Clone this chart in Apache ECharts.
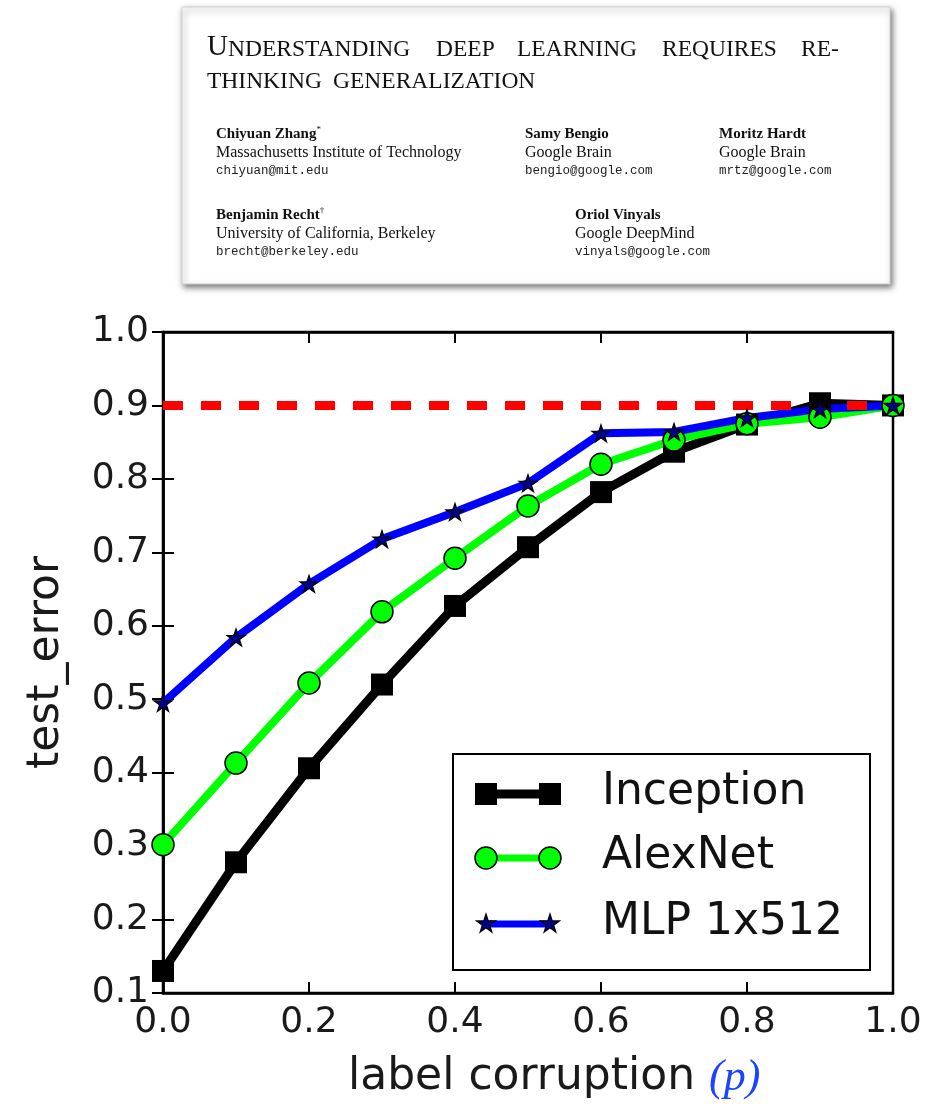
<!DOCTYPE html>
<html>
<head>
<meta charset="utf-8">
<script src="https://cdn.jsdelivr.net/npm/echarts@6/dist/echarts.min.js"></script>
</head>
<body style="margin:0;background:#fff">
<div id="container" style="width:937px;height:1104px"></div>
<script>
// data
var corruption = [0.0, 0.1, 0.2, 0.3, 0.4, 0.5, 0.6, 0.7, 0.8, 0.9, 1.0];
var inception = [0.13, 0.278, 0.406, 0.52, 0.627, 0.707, 0.782, 0.837, 0.874, 0.903, 0.9];
var alexnet = [0.302, 0.413, 0.522, 0.619, 0.692, 0.763, 0.820, 0.853, 0.875, 0.884, 0.9];
var mlp = [0.495, 0.584, 0.657, 0.718, 0.755, 0.794, 0.862, 0.864, 0.883, 0.895, 0.9];
var randomGuess = [0.9, 0.9];
var guessX = [0.0, 1.0];
var seriesNames = ['Inception', 'AlexNet', 'MLP 1x512'];

// paper header text
var titleLine1 = ['Understanding', 'deep', 'learning', 'requires', 're-'];
var titleLine2 = ['thinking', 'generalization'];
var authors = [
    {name: 'Chiyuan Zhang', mark: '*', affil: 'Massachusetts Institute of Technology', email: 'chiyuan@mit.edu'},
    {name: 'Samy Bengio', mark: '', affil: 'Google Brain', email: 'bengio@google.com'},
    {name: 'Moritz Hardt', mark: '', affil: 'Google Brain', email: 'mrtz@google.com'},
    {name: 'Benjamin Recht', mark: '\u2020', affil: 'University of California, Berkeley', email: 'brecht@berkeley.edu'},
    {name: 'Oriol Vinyals', mark: '', affil: 'Google DeepMind', email: 'vinyals@google.com'}
];

function pairs(xs, ys) {
    var out = [];
    for (var i = 0; i < xs.length; i++) out.push([xs[i], ys[i]]);
    return out;
}

var starPath = 'path://M0,-1000 L224,-309 L951,-309 L363,118 L588,809 L0,382 L-588,809 L-363,118 L-951,-309 L-224,-309 Z';

function starPoints(cx, cy, r) {
    var pts = [];
    for (var k = 0; k < 10; k++) {
        var a = -Math.PI / 2 + k * Math.PI / 5;
        var rr = k % 2 === 0 ? r : r * 0.382;
        pts.push([cx + rr * Math.cos(a), cy + rr * Math.sin(a)]);
    }
    return pts;
}

function smallCaps(word) {
    var first = word.charAt(0);
    if (first === first.toUpperCase() && first !== first.toLowerCase()) {
        return '{b|' + first + '}{s|' + word.slice(1).toUpperCase() + '}';
    }
    return '{s|' + word.toUpperCase() + '}';
}

var serif = '"Liberation Serif", "Times New Roman", serif';
var sans = '"DejaVu Sans", sans-serif';
var capsRich = {
    b: {fontSize: 29, fontFamily: serif, fill: '#111', verticalAlign: 'bottom'},
    s: {fontSize: 23.5, fontFamily: serif, fill: '#111', verticalAlign: 'bottom'}
};

var graphics = [];

// header card
graphics.push({
    type: 'rect', z: 0,
    shape: {x: 182, y: 7, width: 708, height: 277},
    style: {fill: '#fff', stroke: '#d0d0d0', lineWidth: 1,
        shadowBlur: 6, shadowOffsetX: 2, shadowOffsetY: 3, shadowColor: 'rgba(0,0,0,0.55)'}
});
var line1X = [207, 436, 517, 662, 801];
titleLine1.forEach(function (w, i) {
    graphics.push({type: 'text', z: 1, x: line1X[i], y: 62,
        style: {text: smallCaps(w), rich: capsRich, textVerticalAlign: 'bottom'}});
});
var line2X = [207, 333];
titleLine2.forEach(function (w, i) {
    graphics.push({type: 'text', z: 1, x: line2X[i], y: 94,
        style: {text: smallCaps(w), rich: capsRich, textVerticalAlign: 'bottom'}});
});
var authorPos = [[216, 134], [525, 134], [719, 134], [216, 215], [575, 215]];
authors.forEach(function (a, i) {
    var px = authorPos[i][0], py = authorPos[i][1];
    graphics.push({type: 'text', z: 1, x: px, y: py,
        style: {text: '{n|' + a.name + '}' + (a.mark ? '{m|' + a.mark + '}' : ''),
            rich: {n: {fontSize: 15, fontWeight: 'bold', fontFamily: serif, fill: '#111'},
                   m: {fontSize: 9, fontFamily: serif, fill: '#111', verticalAlign: 'top', padding: [0, 0, 8, 0]}},
            textVerticalAlign: 'middle'}});
    graphics.push({type: 'text', z: 1, x: px, y: py + 19,
        style: {text: a.affil, font: '16px ' + serif, fill: '#111', textVerticalAlign: 'middle'}});
    graphics.push({type: 'text', z: 1, x: px, y: py + 37,
        style: {text: a.email, font: '12.5px "Liberation Mono", "DejaVu Sans Mono", monospace', fill: '#222', textVerticalAlign: 'middle'}});
});

// x axis title
graphics.push({
    type: 'text', z: 1, x: 348, y: 1078,
    style: {text: '{a|label corruption }{p|(p)}',
        rich: {a: {fontSize: 44, fontFamily: sans, fill: '#1a1a1a'},
               p: {fontSize: 44, fontFamily: serif, fontStyle: 'italic', fill: '#1a44ff'}},
        textVerticalAlign: 'middle'}
});

// legend, matplotlib style with two markers per sample
var legX = 453, legY = 754, legW = 417, legH = 216;
graphics.push({type: 'rect', z: 20, shape: {x: legX, y: legY, width: legW, height: legH},
    style: {fill: '#fff', stroke: '#000', lineWidth: 2}});
var legRows = [794, 858, 924];
var legLineStyle = [
    {stroke: '#000', lineWidth: 9},
    {stroke: '#00ff00', lineWidth: 7},
    {stroke: '#0000ff', lineWidth: 7}
];
seriesNames.forEach(function (nm, i) {
    var y = legRows[i];
    graphics.push({type: 'line', z: 21, shape: {x1: 486, y1: y, x2: 550, y2: y}, style: legLineStyle[i]});
    [486, 550].forEach(function (mx) {
        if (i === 0) {
            graphics.push({type: 'rect', z: 22, shape: {x: mx - 11, y: y - 11, width: 22, height: 22},
                style: {fill: '#000'}});
        } else if (i === 1) {
            graphics.push({type: 'circle', z: 22, shape: {cx: mx, cy: y, r: 11},
                style: {fill: '#00ff00', stroke: '#000', lineWidth: 1.5}});
        } else {
            graphics.push({type: 'polygon', z: 22, shape: {points: starPoints(mx, y, 10)},
                style: {fill: '#00008b', stroke: '#000', lineWidth: 1.2}});
        }
    });
    graphics.push({type: 'text', z: 22, x: 602, y: y - 1,
        style: {text: nm, font: '44px ' + sans, fill: '#111', textVerticalAlign: 'middle'}});
});

var tickStyle = {show: true, inside: true, length: 11, lineStyle: {color: '#000', width: 2}};
var labelStyle = {fontSize: 36, fontFamily: sans, color: '#1a1a1a'};

var dom = document.getElementById('container');
var myChart = echarts.init(dom, null, {renderer: 'canvas'});

var option = {
    backgroundColor: '#fff',
    animation: false,
    grid: {left: 163, top: 332, width: 730, height: 661, containLabel: false, outerBoundsMode: 'none',
        show: true, borderColor: '#000', borderWidth: 2.5, backgroundColor: 'transparent'},
    xAxis: [
        {type: 'value', min: 0, max: 1, interval: 0.2, position: 'bottom',
            axisLine: {show: true, lineStyle: {color: '#000', width: 2.5}},
            axisTick: tickStyle, splitLine: {show: false},
            axisLabel: Object.assign({margin: 12, formatter: function (v) { return v.toFixed(1); }}, labelStyle)},
        {type: 'value', min: 0, max: 1, interval: 0.2, position: 'top',
            axisLine: {show: true, lineStyle: {color: '#000', width: 2.5}},
            axisTick: tickStyle, splitLine: {show: false}, axisLabel: {show: false}}
    ],
    yAxis: [
        {type: 'value', min: 0.1, max: 1.0, interval: 0.1, position: 'left',
            name: 'test_error', nameLocation: 'middle', nameGap: 94,
            nameTextStyle: {fontSize: 44, fontFamily: sans, color: '#1a1a1a'},
            axisLine: {show: true, lineStyle: {color: '#000', width: 2.5}},
            axisTick: tickStyle, splitLine: {show: false},
            axisLabel: Object.assign({margin: 14, formatter: function (v) { return v.toFixed(1); }}, labelStyle)},
        {type: 'value', min: 0.1, max: 1.0, interval: 0.1, position: 'right',
            axisLine: {show: true, lineStyle: {color: '#000', width: 2.5}},
            axisTick: tickStyle, splitLine: {show: false}, axisLabel: {show: false}}
    ],
    series: [
        {name: seriesNames[0], type: 'line', data: pairs(corruption, inception),
            symbol: 'rect', symbolSize: 22, showAllSymbol: true, clip: true,
            lineStyle: {color: '#000', width: 9}, itemStyle: {color: '#000'}},
        {name: seriesNames[1], type: 'line', data: pairs(corruption, alexnet),
            symbol: 'circle', symbolSize: 22, showAllSymbol: true, clip: true,
            lineStyle: {color: '#00ff00', width: 8},
            itemStyle: {color: '#00ff00', borderColor: '#000', borderWidth: 1.5}},
        {name: seriesNames[2], type: 'line', data: pairs(corruption, mlp),
            symbol: starPath, symbolSize: [18, 17], showAllSymbol: true, clip: true,
            lineStyle: {color: '#0000ff', width: 8},
            itemStyle: {color: '#00008b', borderColor: '#000', borderWidth: 1.2}},
        {name: 'random guess', type: 'line', data: pairs(guessX, randomGuess),
            symbol: 'none', clip: true, z: 3,
            lineStyle: {color: '#ff0000', width: 9, type: [20, 18]}}
    ],
    graphic: graphics
};

myChart.setOption(option);
window.addEventListener('resize', myChart.resize);
</script>
</body>
</html>
